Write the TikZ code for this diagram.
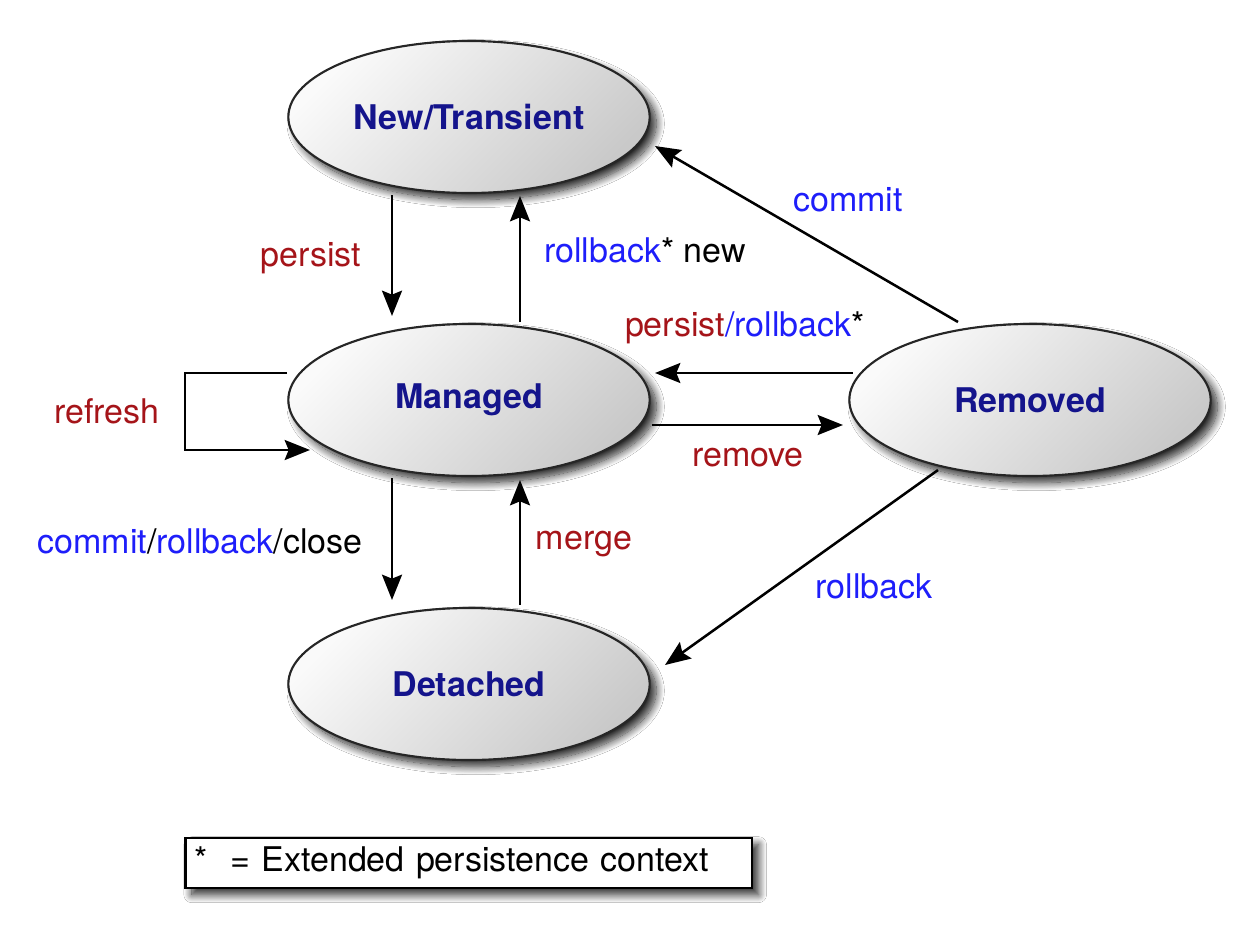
\documentclass[tikz,border=0pt]{standalone}
\usepackage{fontspec}
\setmainfont{TeX Gyre Heros}
\usetikzlibrary{shapes.geometric,arrows.meta,shadows.blur}
\definecolor{lblred}{RGB}{165,20,25}
\definecolor{lblblue}{RGB}{30,30,250}
\definecolor{nodetext}{RGB}{20,20,140}
\tikzset{
  state/.style={ellipse, draw=black!85, line width=1.6pt, minimum width=271pt, minimum height=114pt, inner sep=0pt,
    top color=gray!4, bottom color=gray!42, shading angle=45,
    blur shadow={shadow xshift=5pt, shadow yshift=-5pt, shadow blur steps=14, shadow blur radius=6pt, shadow opacity=85},
    font=\fontsize{25.5}{30}\selectfont\bfseries, text=nodetext},
  arr/.style={line width=1.9pt, -{Stealth[length=19pt,width=15pt,inset=3pt]}},
  lbl/.style={font=\fontsize{25.5}{30}\selectfont, inner sep=0pt},
  legendbox/.style={draw=black, line width=2pt, fill=white, minimum width=425pt, minimum height=37.5pt,
    text width=411pt, align=left, inner xsep=7pt,
    blur shadow={shadow xshift=5pt, shadow yshift=-5pt, shadow blur steps=14, shadow blur radius=6pt, shadow opacity=85},
    font=\fontsize{25.5}{30}\selectfont}
}
\begin{document}
\begin{tikzpicture}[x=0.75pt,y=-0.75pt]
\useasboundingbox (0,0) rectangle (1237,925);
\fill[white] (0,0) rectangle (1237,925);

\node[state] (N) at (469,117) {New/Transient};
\node[state] (M) at (469,400) {Managed};
\node[state] (D) at (469,684) {Detached};
\node[state] (R) at (1030,400) {Removed};

% connectors
\draw[arr] ([shift={(-77,78)}]N.center) -- ([shift={(-77,-84)}]M.center);
\draw[arr] ([shift={(51,-78)}]M.center) -- ([shift={(51,79)}]N.center);
\draw[arr] ([shift={(-72,-78)}]R.center) -- ([shift={(186,29)}]N.center);
\draw[arr] ([shift={(-177,-27)}]R.center) -- ([shift={(186,-27)}]M.center);
\draw[arr] ([shift={(183,25)}]M.center) -- ([shift={(-187,25)}]R.center);
\draw[arr] ([shift={(-182,-27)}]M.center) -- ++(-102,0) -- ++(0,77) -- ([shift={(-159,50)}]M.center);
\draw[arr] ([shift={(-77,78)}]M.center) -- ([shift={(-77,-84)}]D.center);
\draw[arr] ([shift={(51,-79)}]D.center) -- ([shift={(51,80)}]M.center);
\draw[arr] ([shift={(-92,70)}]R.center) -- ([shift={(196,-19)}]D.center);

% labels
\node[lbl, text=lblred] (lpersist) at (311,258) {persist};
\node[lbl] (lrbnew) at (645,250) {\textcolor{lblblue}{rollback}* new};
\node[lbl, text=lblblue] (lcommit) at (848,200) {commit};
\node[lbl] (lpr) at (745,328) {\textcolor{lblred}{persist}\textcolor{lblblue}{/rollback}*};
\node[lbl, text=lblred] (lremove) at (748,458) {remove};
\node[lbl, text=lblred] (lrefresh) at (107,411) {refresh};
\node[lbl] (lcrc) at (200,541) {\textcolor{lblblue}{commit}/\textcolor{lblblue}{rollback}/close};
\node[lbl, text=lblred] (lmerge) at (584,544) {merge};
\node[lbl, text=lblblue] (lrollback) at (874,586) {rollback};

% legend
\node[legendbox] (legend) at (468.5,863) {*\ \ = Extended persistence context};
\end{tikzpicture}
\end{document}
